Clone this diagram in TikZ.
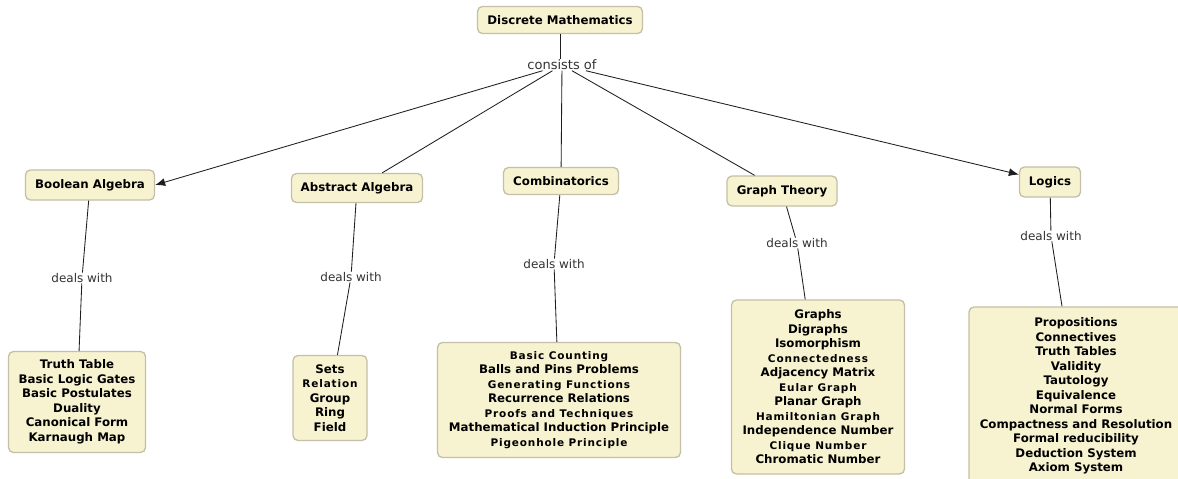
\documentclass[tikz,border=0pt]{standalone}
\usepackage{fontspec}
\setmainfont{DejaVu Sans}
\usetikzlibrary{arrows.meta}
\definecolor{boxfill}{RGB}{247,243,208}
\definecolor{boxline}{RGB}{196,192,165}
\definecolor{linkgray}{RGB}{30,30,30}
\definecolor{labelgray}{RGB}{51,51,51}
% smaller, letter-spaced lines inside the concept lists
\newcommand\itemsm[1]{{\addfontfeatures{LetterSpace=8}\fontsize{10.5}{14.5}\selectfont #1}}

\begin{document}
\begin{tikzpicture}[x=1pt,y=-1pt,
  concept/.style={draw=boxline, line width=1.3pt, fill=boxfill, rounded corners=5pt,
    font=\bfseries\fontsize{11.8}{14.5}\selectfont, text=black, inner sep=0pt, align=center},
  linklabel/.style={font=\fontsize{12}{14}\selectfont, text=labelgray, inner sep=0.5pt},
  link/.style={draw=linkgray, line width=0.85pt},
  arrowlink/.style={link, -{Latex[length=10pt,width=8pt]}}
]
\useasboundingbox (0,0) rectangle (1178,479);
\fill[white] (0,0) rectangle (1178,479);

% root and main branches
\node[concept, minimum width=165, minimum height=27] (dm) at (560,20) {Discrete Mathematics};
\node[concept, minimum width=129, minimum height=30] (ba) at (90,185) {Boolean Algebra};
\node[concept, minimum width=131, minimum height=29] (aa) at (357,188) {Abstract Algebra};
\node[concept, minimum width=115, minimum height=27] (co) at (561,181) {Combinatorics};
\node[concept, minimum width=110, minimum height=30] (gt) at (782,191) {Graph Theory};
\node[concept, minimum width=61, minimum height=30] (lo) at (1050,182) {Logics};

% topic lists
\node[concept, minimum width=137, minimum height=101] (bl) at (77,402)
  {Truth Table\\Basic Logic Gates\\Basic Postulates\\Duality\\Canonical Form\\Karnaugh Map};
\node[concept, minimum width=74, minimum height=85] (al) at (330,398)
  {Sets\\\itemsm{Relation}\\Group\\Ring\\Field};
\node[concept, minimum width=243, minimum height=115] (cl) at (559,400)
  {\itemsm{Basic Counting}\\Balls and Pins Problems\\\itemsm{Generating Functions}\\Recurrence Relations\\\itemsm{Proofs and Techniques}\\Mathematical Induction Principle\\\itemsm{Pigeonhole Principle}};
\node[concept, minimum width=173, minimum height=174] (gl) at (818,387)
  {Graphs\\Digraphs\\Isomorphism\\\itemsm{Connectedness}\\Adjacency Matrix\\\itemsm{Eular Graph}\\Planar Graph\\\itemsm{Hamiltonian Graph}\\Independence Number\\\itemsm{Clique Number}\\Chromatic Number};
\node[concept, minimum width=214, minimum height=178] (ll) at (1076,396)
  {Propositions\\Connectives\\Truth Tables\\Validity\\Tautology\\Equivalence\\Normal Forms\\Compactness and Resolution\\Formal reducibility\\Deduction System\\Axiom System};

% linking phrases
\node[linklabel, font=\fontsize{13}{15}\selectfont] (cons) at (562,65) {consists of};
\node[linklabel] (dba) at (82,278) {deals with};
\node[linklabel] (daa) at (351,277) {deals with};
\node[linklabel] (dco) at (554,264) {deals with};
\node[linklabel] (dgt) at (797,243) {deals with};
\node[linklabel] (dlo) at (1051,236) {deals with};

% connectors
\draw[link] (dm.south) -- (dm.south |- cons.north);
\draw[arrowlink] (cons) -- (ba.east);
\draw[link] (cons) -- (aa);
\draw[link] (cons) -- (co);
\draw[link] (cons) -- (gt);
\draw[arrowlink] (cons) -- (lo);

\draw[link] (ba) -- (dba) -- (bl);
\draw[link] (aa) -- (daa) -- (al);
\draw[link] (co) -- (dco) -- (cl);
\draw[link] (gt) -- (dgt) -- (gl);
\draw[link] (lo) -- (dlo) -- (ll);
\end{tikzpicture}
\end{document}
